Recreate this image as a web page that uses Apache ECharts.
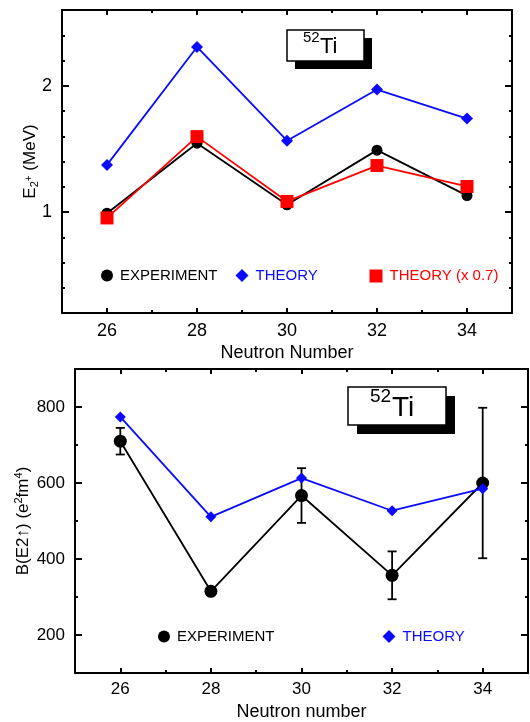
<!DOCTYPE html>
<html><head><meta charset="utf-8">
<script src="https://cdn.jsdelivr.net/npm/echarts@6/dist/echarts.min.js"></script>
<style>html,body{margin:0;padding:0;background:#fff}#c{width:530px;height:722px}</style>
</head><body><div id="c"></div>
<script>
const neutronNumbers = [26, 28, 30, 32, 34];
const e2Experiment = [0.99, 1.545, 1.057, 1.49, 1.13];
const e2Theory = [1.373, 2.307, 1.565, 1.97, 1.74];
const e2TheoryScaled = [0.953, 1.597, 1.084, 1.368, 1.202];
const be2Experiment = [710, 315, 567, 357, 600];
const be2ExperimentErr = [35, null, 72, 63, 198];
const be2Theory = [774, 511, 613, 527, 585];
const xTickLabels = [26, 28, 30, 32, 34];
const e2TickLabels = [1, 2];
const be2TickLabels = [200, 400, 600, 800];

const FONT = "'Liberation Sans', Arial, Helvetica, sans-serif";
const BLUE = '#0a0aff';
const RED = '#ff0000';

function pairs(xs, ys) { return xs.map((x, i) => [x, ys[i]]); }

function axisSet(kind, gridIndex, opts) {
  const pos = kind === 'x' ? ['bottom', 'top'] : ['left', 'right'];
  const base = {
    type: 'value', gridIndex, min: opts.min, max: opts.max, interval: opts.interval,
    splitLine: { show: false }
  };
  const main = Object.assign({}, base, {
    position: pos[0],
    axisLine: { show: true, onZero: false, lineStyle: { color: '#000', width: 2 } },
    axisTick: { show: true, inside: true, length: opts.minorLen, lineStyle: { color: '#000', width: 2 } },
    axisLabel: { show: true, customValues: opts.labels, margin: opts.margin, color: '#000', fontSize: opts.fontSize, fontFamily: FONT },
    name: opts.name, nameLocation: 'middle', nameGap: opts.nameGap, nameMoveOverlap: false,
    nameTextStyle: Object.assign({ color: '#000', fontSize: opts.nameSize, fontFamily: FONT }, opts.nameStyle || {})
  });
  const mainMajor = Object.assign({}, base, {
    position: pos[0],
    axisLine: { show: false, onZero: false },
    axisTick: { show: true, inside: true, customValues: opts.labels, length: opts.majorLen, lineStyle: { color: '#000', width: 2 } },
    axisLabel: { show: false }
  });
  const mirror = Object.assign({}, base, {
    position: pos[1],
    axisLine: { show: true, onZero: false, lineStyle: { color: '#000', width: 2 } },
    axisTick: { show: true, inside: true, length: opts.minorLen, lineStyle: { color: '#000', width: 2 } },
    axisLabel: { show: false }
  });
  const mirrorMajor = Object.assign({}, base, {
    position: pos[1],
    axisLine: { show: false, onZero: false },
    axisTick: { show: true, inside: true, customValues: opts.labels, length: opts.majorLen, lineStyle: { color: '#000', width: 2 } },
    axisLabel: { show: false }
  });
  return [main, mainMajor, mirror, mirrorMajor];
}

const xAxes = [
  ...axisSet('x', 0, { min: 25, max: 35, interval: 1, labels: xTickLabels, minorLen: 3, majorLen: 5, margin: 9, fontSize: 18,
    name: 'Neutron Number', nameGap: 31, nameSize: 18 }),
  ...axisSet('x', 1, { min: 25, max: 35, interval: 1, labels: xTickLabels, minorLen: 3, majorLen: 5, margin: 8, fontSize: 17,
    name: 'Neutron number', nameGap: 30, nameSize: 18 })
];
const yAxes = [
  ...axisSet('y', 0, { min: 0.2, max: 2.6, interval: 0.2, labels: e2TickLabels, minorLen: 3, majorLen: 7, margin: 10, fontSize: 18,
    name: '{n|E}{sub|2}{sup|+}{n| (MeV)}', nameGap: 22, nameSize: 17,
    nameStyle: { rich: {
      n: { fontSize: 17, fontFamily: FONT, color: '#000' },
      sub: { fontSize: 11, fontFamily: FONT, color: '#000', padding: [8, 0, 0, 0] },
      sup: { fontSize: 10, fontFamily: FONT, color: '#000', padding: [0, 0, 2, 0] }
    } } }),
  ...axisSet('y', 1, { min: 100, max: 900, interval: 100, labels: be2TickLabels, minorLen: 3, majorLen: 7, margin: 10, fontSize: 17,
    name: '{n|B(E2\u2191) (e}{sup|2}{n|fm}{sup|4}{n|)}', nameGap: 41, nameSize: 17,
    nameStyle: { rich: {
      n: { fontSize: 17, fontFamily: FONT, color: '#000' },
      sup: { fontSize: 11, fontFamily: FONT, color: '#000', padding: [0, 0, 10, 0] }
    } } })
];

const errData = neutronNumbers.map((x, i) => be2ExperimentErr[i] == null ? null :
  [x, be2Experiment[i] - be2ExperimentErr[i], be2Experiment[i] + be2ExperimentErr[i]]).filter(d => d);

function legendItem(name, icon, left, top, size, color) {
  return {
    data: [{ name, icon }], left, top, padding: 0, itemWidth: size, itemHeight: size, selectedMode: false,
    textStyle: { color, fontSize: 15, fontFamily: FONT, padding: [0, 0, 0, 2] }
  };
}

function labelBox(x, y, w, h, dx, dy, supSize, mainSize, supX, supY, mainX, mainY) {
  return [
    { type: 'rect', shape: { x: x + dx, y: y + dy, width: w, height: h }, style: { fill: '#000' }, z: 10 },
    { type: 'rect', shape: { x, y, width: w, height: h }, style: { fill: '#fff', stroke: '#000', lineWidth: 1.5 }, z: 11 },
    { type: 'text', x: supX, y: supY, style: { text: '52', fontSize: supSize, fontFamily: FONT, fill: '#000', verticalAlign: 'middle' }, z: 12 },
    { type: 'text', x: mainX, y: mainY, style: { text: 'Ti', fontSize: mainSize, fontFamily: FONT, fill: '#000', verticalAlign: 'middle' }, z: 12 }
  ];
}

const option = {
  animation: false,
  backgroundColor: '#fff',
  grid: [
    { left: 62, top: 10, width: 450, height: 303 },
    { left: 75, top: 369, width: 453, height: 304 }
  ],
  xAxis: xAxes,
  yAxis: yAxes,
  legend: [
    legendItem('EXPERIMENT', 'circle', 101, 268, 12, '#000'),
    legendItem('THEORY', 'diamond', 235.5, 268, 13, BLUE),
    legendItem('THEORY (x 0.7)', 'rect', 369.5, 268.5, 13, RED),
    legendItem('EXPERIMENT', 'circle', 158, 629, 12, '#000'),
    legendItem('THEORY', 'diamond', 382.5, 629, 13, BLUE)
  ],
  graphic: [
    ...labelBox(287, 30, 77, 31, 8, 8, 15, 22, 303, 38, 320, 47),
    ...labelBox(348, 387, 98, 38, 9, 9, 19, 28, 370, 397, 392, 408)
  ],
  series: [
    { name: 'THEORY', type: 'line', xAxisIndex: 0, yAxisIndex: 0, data: pairs(neutronNumbers, e2Theory),
      symbol: 'diamond', symbolSize: 12, lineStyle: { color: BLUE, width: 1.8 }, itemStyle: { color: BLUE } },
    { name: 'EXPERIMENT', type: 'line', xAxisIndex: 0, yAxisIndex: 0, data: pairs(neutronNumbers, e2Experiment),
      symbol: 'circle', symbolSize: 11, lineStyle: { color: '#000', width: 1.8 }, itemStyle: { color: '#000' } },
    { name: 'THEORY (x 0.7)', type: 'line', xAxisIndex: 0, yAxisIndex: 0, data: pairs(neutronNumbers, e2TheoryScaled),
      symbol: 'rect', symbolSize: 13, lineStyle: { color: RED, width: 1.8 }, itemStyle: { color: RED } },
    { name: 'errors', type: 'custom', xAxisIndex: 4, yAxisIndex: 4, data: errData,
      renderItem: function (params, api) {
        const x = api.value(0);
        const p1 = api.coord([x, api.value(1)]);
        const p2 = api.coord([x, api.value(2)]);
        const w = 4.5;
        const st = { stroke: '#000', lineWidth: 1.8 };
        return { type: 'group', children: [
          { type: 'line', shape: { x1: p1[0], y1: p1[1], x2: p2[0], y2: p2[1] }, style: st },
          { type: 'line', shape: { x1: p1[0] - w, y1: p1[1], x2: p1[0] + w, y2: p1[1] }, style: st },
          { type: 'line', shape: { x1: p2[0] - w, y1: p2[1], x2: p2[0] + w, y2: p2[1] }, style: st }
        ] };
      } },
    { name: 'EXPERIMENT', type: 'line', xAxisIndex: 4, yAxisIndex: 4, data: pairs(neutronNumbers, be2Experiment),
      symbol: 'circle', symbolSize: 13, lineStyle: { color: '#000', width: 1.8 }, itemStyle: { color: '#000' } },
    { name: 'THEORY', type: 'line', xAxisIndex: 4, yAxisIndex: 4, data: pairs(neutronNumbers, be2Theory),
      symbol: 'diamond', symbolSize: 11, lineStyle: { color: BLUE, width: 1.8 }, itemStyle: { color: BLUE } }
  ]
};

const chart = echarts.init(document.getElementById('c'), null, { renderer: 'canvas' });
chart.setOption(option);
</script>
</body></html>
